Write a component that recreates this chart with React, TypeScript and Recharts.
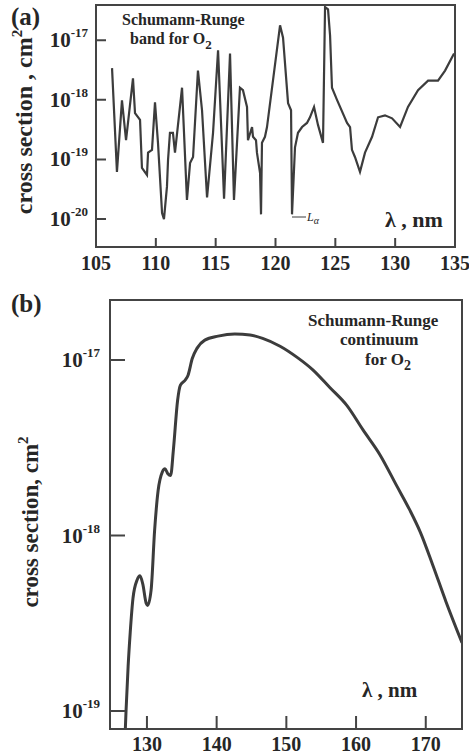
import React from 'react';
import { LineChart, Line, XAxis, YAxis } from 'recharts';

// (a) Schumann-Runge bands for O2, wavelength in nm / cross section in cm^2
const bandWavelength = [
  106.34, 106.75, 107.17, 107.51, 108.09, 108.26, 108.68, 108.84, 109.26, 109.35,
  109.68, 109.93, 110.18, 110.52, 110.68, 110.93, 111.02, 111.18, 111.43, 111.6,
  112.19, 112.6, 112.86, 113.11, 113.52, 113.86, 114.28, 114.78, 115.2, 115.53,
  115.7, 116.2, 116.53, 117.03, 117.28, 117.62, 117.7, 118.04, 118.12, 118.37,
  118.45, 118.71, 118.79, 118.87, 119.12, 119.29, 120.38, 120.63, 121.05, 121.3,
  121.38, 121.63, 121.88, 122.22, 122.63, 122.88, 123.22, 123.55, 123.97, 124.14,
  124.39, 124.56, 124.72, 125.14, 125.98, 126.23, 126.39, 126.64, 127.06, 127.48,
  128.07, 128.57, 129.15, 129.74, 130.41, 131.07, 131.91, 132.75, 133.58, 134.17,
  134.92,
];
const bandCrossSection = [
  3.4e-18, 6.2e-20, 9.8e-19, 2.1e-19, 2.3e-18, 6.0e-19, 4.6e-19, 7.2e-20, 5.5e-20, 1.3e-19,
  1.45e-19, 9.1e-19, 1.9e-19, 1.26e-20, 1.0e-20, 3.5e-20, 9.8e-20, 2.8e-19, 2.8e-19, 1.3e-19,
  1.6e-18, 2.1e-20, 8.7e-20, 1.1e-19, 3.1e-18, 6.7e-19, 2.3e-20, 2.8e-19, 6.8e-18, 1.6e-19,
  2.2e-20, 6.0e-18, 2.1e-20, 1.6e-18, 1.45e-18, 7.6e-19, 2.1e-19, 3.5e-19, 2.4e-19, 2.1e-19,
  1.3e-19, 5.9e-20, 1.2e-20, 1.9e-19, 2.4e-19, 3.5e-19, 1.78e-17, 1.1e-17, 8.8e-19, 6.7e-19,
  1.2e-20, 1.6e-19, 2.8e-19, 3.5e-19, 4.1e-19, 5.1e-19, 7.6e-19, 3.8e-19, 1.9e-19, 3.6e-17,
  3.3e-17, 1.2e-17, 1.6e-18, 1.0e-18, 4.1e-19, 3.5e-19, 1.45e-19, 1.1e-19, 6.2e-20, 1.3e-19,
  2.4e-19, 5.1e-19, 5.5e-19, 4.9e-19, 3.5e-19, 7.6e-19, 1.45e-18, 2.1e-18, 2.1e-18, 3.1e-18,
  6.0e-18,
];
const bandTicksX = [105, 110, 115, 120, 125, 130, 135];
const bandTicksY = [1e-17, 1e-18, 1e-19, 1e-20];
const bandDomainX = [105, 135];
const bandDomainY = [3.4e-21, 3.9e-17];

// (b) Schumann-Runge continuum for O2
const contWavelength = [
  126.9, 127.0, 127.3, 127.6, 128.0, 128.6, 129.0, 129.4, 129.9, 130.1,
  130.6, 131.1, 131.6, 132.2, 132.6, 133.0, 133.4, 133.8, 134.4, 134.8,
  135.5, 135.9, 136.5, 137.2, 138.3, 140.2, 142.6, 144.8, 146.6, 149.1,
  151.5, 153.8, 156.2, 158.7, 161.0, 163.4, 165.9, 167.7, 169.2, 171.0,
  172.9, 175.2,
];
const contCrossSection = [
  7.9e-20, 1.0e-19, 1.8e-19, 2.8e-19, 4.4e-19, 5.6e-19, 5.9e-19, 5.3e-19, 4.1e-19, 4.0e-19,
  4.9e-19, 1.07e-18, 1.8e-18, 2.3e-18, 2.4e-18, 2.25e-18, 2.2e-18, 3.1e-18, 5.9e-18, 7.2e-18,
  7.7e-18, 8.2e-18, 1.02e-17, 1.17e-17, 1.3e-17, 1.37e-17, 1.41e-17, 1.39e-17, 1.33e-17, 1.2e-17,
  1.04e-17, 8.8e-18, 7.0e-18, 5.5e-18, 4.0e-18, 2.9e-18, 1.9e-18, 1.4e-18, 1.05e-18, 6.8e-19,
  4.2e-19, 2.45e-19,
];
const contTicksX = [130, 140, 150, 160, 170];
const contTicksY = [1e-17, 1e-18, 1e-19];
const contDomainX = [124.7, 175.2];
const contDomainY = [7.9e-20, 2.2e-17];

const bandData = bandWavelength.map((w, i) => ({ w, v: bandCrossSection[i] }));
const contData = contWavelength.map((w, i) => ({ w, v: contCrossSection[i] }));

// plot boxes (page pixels); chart margins are derived from these
const W = 469;
const boxA = { top: 0, height: 280, left: 96, right: 455, plotTop: 5, plotBottom: 247 };
const boxB = { top: 280, height: 475, left: 110, right: 462, plotTop: 300, plotBottom: 729 };

const FONT = '"Liberation Serif", "Times New Roman", serif';
const INK = '#262626';
const AXIS = '#444444';
const CURVE = '#3c3c3c';

const sx = (b: any, dom: number[], v: number) => b.left + ((v - dom[0]) / (dom[1] - dom[0])) * (b.right - b.left);
const sy = (b: any, dom: number[], v: number) =>
  b.plotBottom -
  ((Math.log10(v) - Math.log10(dom[0])) / (Math.log10(dom[1]) - Math.log10(dom[0]))) * (b.plotBottom - b.plotTop);

function XLabel(props: any) {
  const { x, y, payload, dy, fontSize } = props;
  return (
    <text x={x} y={y + dy} textAnchor="middle" fontFamily={FONT} fontWeight="bold" fontSize={fontSize} fill={INK}>
      {payload.value}
    </text>
  );
}

function YLabel(props: any) {
  const { x, y, payload, gap, fontSize } = props;
  const exp = Math.round(Math.log10(payload.value));
  return (
    <text x={x - gap} y={y + 7} textAnchor="end" fontFamily={FONT} fontWeight="bold" fontSize={fontSize} fill={INK}>
      <tspan>10</tspan>
      <tspan dy={-10} fontSize={Math.round(fontSize * 0.62)}>{exp}</tspan>
    </text>
  );
}

// frame + inward tick marks of one panel as one svg path
function framePath(b: any, domX: number[], domY: number[], ticksX: number[], ticksY: number[], lenX: number, lenY: number) {
  let d = `M${b.left},${b.plotTop}H${b.right}V${b.plotBottom}H${b.left}Z`;
  ticksX.forEach((v) => {
    const x = sx(b, domX, v);
    d += `M${x},${b.plotBottom}V${b.plotBottom - lenX}`;
  });
  ticksY.forEach((v) => {
    const y = sy(b, domY, v);
    d += `M${b.left},${y}H${b.left + lenY}`;
  });
  return d;
}

export default function App() {
  const bold = { fontFamily: FONT, fontWeight: 'bold' as const, fill: INK };
  return (
    <div style={{ position: 'absolute', left: 0, top: 0, width: W, height: 755 }}>
      {/* (a) bands */}
      <div style={{ position: 'absolute', left: 0, top: boxA.top }}>
        <LineChart
          width={W}
          height={boxA.height}
          data={bandData}
          margin={{ top: boxA.plotTop - boxA.top, right: W - boxA.right, left: 0, bottom: 0 }}
        >
          <XAxis
            dataKey="w"
            type="number"
            domain={bandDomainX}
            ticks={bandTicksX}
            interval={0}
            height={boxA.top + boxA.height - boxA.plotBottom}
            tickSize={0}
            tickMargin={0}
            tickLine={false}
            stroke={AXIS}
            tick={(p: any) => <XLabel {...p} dy={23} fontSize={20} />}
          />
          <YAxis
            type="number"
            scale="log"
            domain={bandDomainY}
            allowDataOverflow
            ticks={bandTicksY}
            interval={0}
            width={boxA.left}
            tickSize={0}
            tickMargin={0}
            tickLine={false}
            stroke={AXIS}
            tick={(p: any) => <YLabel {...p} gap={8} fontSize={21} />}
          />
          <Line type="linear" dataKey="v" stroke={CURVE} strokeWidth={2.2} dot={false} isAnimationActive={false} />
        </LineChart>
      </div>

      {/* (b) continuum */}
      <div style={{ position: 'absolute', left: 0, top: boxB.top }}>
        <LineChart
          width={W}
          height={boxB.height}
          data={contData}
          margin={{ top: boxB.plotTop - boxB.top, right: W - boxB.right, left: 0, bottom: 0 }}
        >
          <XAxis
            dataKey="w"
            type="number"
            domain={contDomainX}
            ticks={contTicksX}
            interval={0}
            height={boxB.top + boxB.height - boxB.plotBottom}
            tickSize={0}
            tickMargin={0}
            tickLine={false}
            stroke={AXIS}
            allowDataOverflow
            tick={(p: any) => <XLabel {...p} dy={22} fontSize={20} />}
          />
          <YAxis
            type="number"
            scale="log"
            domain={contDomainY}
            allowDataOverflow
            ticks={contTicksY}
            interval={0}
            width={boxB.left}
            tickSize={0}
            tickMargin={0}
            tickLine={false}
            stroke={AXIS}
            tick={(p: any) => <YLabel {...p} gap={10} fontSize={21} />}
          />
          <Line type="monotone" dataKey="v" stroke={CURVE} strokeWidth={3} dot={false} isAnimationActive={false} />
        </LineChart>
      </div>

      {/* frames, tick marks, labels and annotations */}
      <svg width={W} height={755} style={{ position: 'absolute', left: 0, top: 0, pointerEvents: 'none' }}>
        <path
          d={framePath(boxA, bandDomainX, bandDomainY, bandTicksX, bandTicksY, 9, 10)}
          stroke={AXIS}
          strokeWidth={2}
          fill="none"
        />
        <path
          d={framePath(boxB, contDomainX, contDomainY, contTicksX, contTicksY, 13, 15)}
          stroke={AXIS}
          strokeWidth={2}
          fill="none"
        />

        <text x={11} y={25} fontSize={25} {...bold}>(a)</text>
        <text x={122} y={25} fontSize={16} {...bold}>Schumann-Runge</text>
        <text x={130} y={44} fontSize={16} {...bold}>
          band for O<tspan dy={5} fontSize={13}>2</tspan>
        </text>
        <text transform="translate(32,122) rotate(-90)" textAnchor="middle" fontSize={24} {...bold}>
          cross section , cm<tspan dy={-10} fontSize={15}>2</tspan>
        </text>
        <line x1={292} y1={217} x2={306} y2={217} stroke={CURVE} strokeWidth={1} />
        <text x={307} y={221} fontSize={12} fontStyle="italic" fontFamily={FONT} fill={INK}>
          L<tspan dy={3} fontSize={10}>α</tspan>
        </text>
        <text x={385} y={227} fontSize={22} {...bold}>λ , nm</text>

        <text x={11} y={312} fontSize={25} {...bold}>(b)</text>
        <text x={308} y={326} fontSize={17} {...bold}>Schumann-Runge</text>
        <text x={340} y={345} fontSize={17} {...bold}>continuum</text>
        <text x={365} y={365} fontSize={17} {...bold}>
          for O<tspan dy={5} fontSize={14}>2</tspan>
        </text>
        <text transform="translate(38,522) rotate(-90)" textAnchor="middle" fontSize={23} {...bold}>
          cross section, cm<tspan dy={-10} fontSize={15}>2</tspan>
        </text>
        <text x={362} y={697} fontSize={21} {...bold}>λ , nm</text>
      </svg>
    </div>
  );
}
